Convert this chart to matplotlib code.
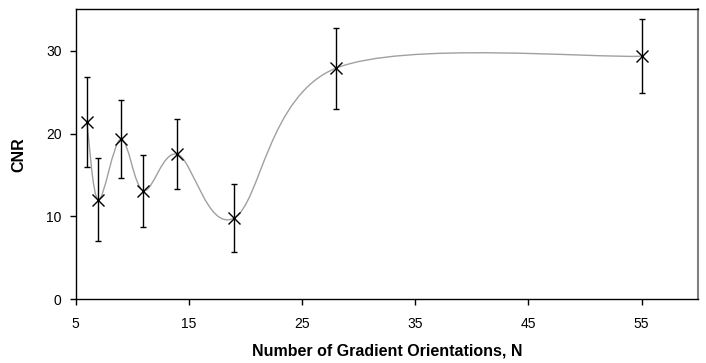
import numpy as np
import matplotlib
matplotlib.use("Agg")
from matplotlib import pyplot as plt
from matplotlib.path import Path
from matplotlib.patches import PathPatch

plt.rcParams['font.family'] = ['Liberation Sans', 'DejaVu Sans']

# data
n_orient = [6, 7, 9, 11, 14, 19, 28, 55]
cnr = [21.4, 12.0, 19.35, 13.1, 17.5, 9.8, 27.9, 29.35]
cnr_err = [5.4, 5.0, 4.75, 4.35, 4.25, 4.15, 4.9, 4.45]
x_ticks = [5, 15, 25, 35, 45, 55]
y_ticks = [0, 10, 20, 30]


def smooth_path(xs, ys):
    # excel-like smoothed line: cubic bezier with catmull-rom tangents
    pts = np.column_stack([xs, ys]).astype(float)
    verts = [pts[0]]
    codes = [Path.MOVETO]
    n = len(pts)
    for i in range(n - 1):
        p0 = pts[i - 1] if i > 0 else pts[i]
        p1 = pts[i]
        p2 = pts[i + 1]
        p3 = pts[i + 2] if i + 2 < n else pts[i + 1]
        c1 = p1 + (p2 - p0) / 6.0
        c2 = p2 - (p3 - p1) / 6.0
        verts += [c1, c2, p2]
        codes += [Path.CURVE4] * 3
    return Path(verts, codes)


fig = plt.figure(figsize=(7.06, 3.63), dpi=100)
ax = fig.add_axes([0.107, 0.176, 0.882, 0.798])

ax.add_patch(PathPatch(smooth_path(n_orient, cnr), facecolor='none',
                       edgecolor='#a0a0a0', lw=1.0, zorder=2))
ax.errorbar(n_orient, cnr, yerr=cnr_err, fmt='none', ecolor='black',
            elinewidth=1.0, capsize=2.5, capthick=1.0, zorder=3)
ax.plot(n_orient, cnr, linestyle='none', marker='x', markersize=9,
        markeredgewidth=1.0, color='black', zorder=4)

ax.set_xlim(5, 60)
ax.set_ylim(0, 35)
ax.set_xticks(x_ticks)
ax.set_yticks(y_ticks)
ax.tick_params(direction='out', length=4, width=1, labelsize=10, pad=6)
ax.tick_params(axis='x', pad=9)

for s in ['left', 'bottom', 'top']:
    ax.spines[s].set_linewidth(1.0)
ax.spines['right'].set_color('#808080')
ax.spines['right'].set_linewidth(1.5)

ax.set_xlabel('Number of Gradient Orientations, N', fontsize=11.5,
              fontweight='bold', labelpad=9)
ax.set_ylabel('CNR', fontsize=11.5, fontweight='bold', labelpad=14)

fig.savefig('out.png', dpi=100)
